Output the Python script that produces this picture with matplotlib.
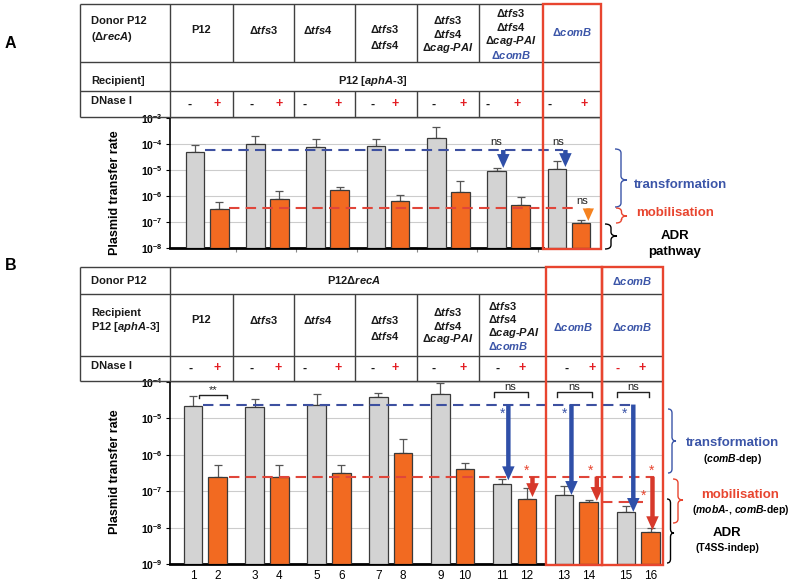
# plasmid transfer rates, panels A and B with the strain tables above them

import numpy as np
import matplotlib
matplotlib.use('Agg')
import matplotlib.pyplot as plt
from matplotlib.patches import Rectangle, PathPatch
from matplotlib.path import Path

plt.rcParams['font.family'] = ['Liberation Sans', 'DejaVu Sans']
plt.rcParams['mathtext.fontset'] = 'custom'
plt.rcParams['mathtext.it'] = 'Liberation Sans:italic:bold'
plt.rcParams['mathtext.rm'] = 'Liberation Sans:bold'
plt.rcParams['mathtext.bf'] = 'Liberation Sans:bold'

# ---- data ----
# panel A: 7 donors, DNase I - (grey) / + (orange)
a_minus = [5.0e-5, 1.0e-4, 8.0e-5, 8.5e-5, 1.65e-4, 8.9e-6, 1.07e-5]
a_minus_top = [9.0e-5, 2.1e-4, 1.5e-4, 1.5e-4, 4.5e-4, 1.2e-5, 2.3e-5]
a_plus = [3.1e-7, 7.4e-7, 1.7e-6, 6.3e-7, 1.4e-6, 4.5e-7, 9.0e-8]
a_plus_top = [6.0e-7, 1.5e-6, 2.3e-6, 1.07e-6, 3.9e-6, 8.9e-7, 1.2e-7]
a_transf_level = 5.9e-5
a_mob_level = 3.4e-7

# panel B: 8 recipients, lanes 1..16
b_minus = [2.2e-5, 2.1e-5, 2.3e-5, 3.8e-5, 4.7e-5, 1.6e-7, 7.7e-8, 2.6e-8]
b_minus_top = [4.1e-5, 3.4e-5, 4.7e-5, 5.1e-5, 9.3e-5, 2.2e-7, 1.4e-7, 3.8e-8]
b_plus = [2.5e-7, 2.5e-7, 3.2e-7, 1.12e-6, 4.1e-7, 6.3e-8, 5.0e-8, 7.6e-9]
b_plus_top = [5.1e-7, 5.2e-7, 5.2e-7, 2.8e-6, 6.0e-7, 1.2e-7, 5.8e-8, 1.0e-8]
b_lanes = [str(i) for i in range(1, 17)]
b_transf_level = 2.4e-5
b_mob_level = 2.5e-7
b_mob_level2 = 4.9e-8

GRAY = '#d3d3d3'
ORANGE = '#f26a21'
EDGE = '#3a3a3a'
BLUE = '#3b55a8'
RED = '#e8452f'
PLUS = '#e31e24'
TL = '#404040'
FS = 8

W, H = 793, 582
fig = plt.figure(figsize=(W / 100, H / 100), dpi=100)


def px_axes(x0, y0, x1, y1):
    return fig.add_axes([x0 / W, 1 - y1 / H, (x1 - x0) / W, (y1 - y0) / H])


def bar_chart(ax, minus, minus_top, plus, plus_top, ylo, yhi, xlim, width, box_left):
    n = len(minus)
    x = np.arange(n)
    xo = x + 0.4
    ax.set_yscale('log')
    ax.bar(x, np.array(minus) - ylo, width, bottom=ylo, color=GRAY, edgecolor=EDGE, lw=0.9, zorder=3)
    ax.bar(xo, np.array(plus) - ylo, width, bottom=ylo, color=ORANGE, edgecolor=EDGE, lw=0.9, zorder=3)
    ax.errorbar(x, minus, yerr=[np.zeros(n), np.array(minus_top) - np.array(minus)], fmt='none',
                ecolor='#555555', elinewidth=0.9, capsize=3, capthick=0.9, zorder=2)
    ax.errorbar(xo, plus, yerr=[np.zeros(n), np.array(plus_top) - np.array(plus)], fmt='none',
                ecolor='#555555', elinewidth=0.9, capsize=3, capthick=0.9, zorder=2)
    ax.set_ylim(ylo, yhi)
    ax.set_xlim(*xlim)
    exps = range(int(np.log10(ylo)), int(np.log10(yhi)) + 1)
    ax.set_yticks([10.0 ** e for e in exps],
                  labels=[r'$\mathdefault{10^{%d}}$' % e for e in exps],
                  fontsize=7.5, fontweight='bold')
    ax.yaxis.set_minor_locator(matplotlib.ticker.NullLocator())
    ax.tick_params(axis='y', length=3, width=0.8, pad=2)
    ax.yaxis.grid(True, color='#cccccc', lw=0.8)
    ax.set_axisbelow(True)
    ax.patch.set_visible(False)
    for s in ('top', 'right'):
        ax.spines[s].set_visible(False)
    ax.spines['left'].set_linewidth(1.2)
    ax.spines['bottom'].set_linewidth(2.0)
    ax.spines['bottom'].set_bounds(xlim[0], box_left)


def arrow(ax, x, y0, y1, color, scale=10):
    ax.annotate('', xy=(x, y1), xytext=(x, y0),
                arrowprops=dict(arrowstyle='simple,tail_width=0.32,head_width=0.9,head_length=1.0',
                                lw=0, fc=color, ec='none', mutation_scale=scale,
                                shrinkA=0, shrinkB=0),
                annotation_clip=False, zorder=6)


def bracket(ax, x0, x1, ytop, yleg, label):
    ax.plot([x0, x0, x1, x1], [yleg, ytop, ytop, yleg], color='#222222', lw=1.0, clip_on=False, zorder=6)
    ax.text((x0 + x1) / 2, ytop, label, ha='center', va='bottom', fontsize=8, color='#222222', zorder=6)


# ---- panel A chart ----
axA = px_axes(170, 118, 601, 248)
bar_chart(axA, a_minus, a_minus_top, a_plus, a_plus_top, 1e-8, 1e-3, (-0.415, 6.73), 0.31, 5.77)
axA.set_xticks([i + 0.68 for i in range(6)], labels=[])
axA.tick_params(axis='x', length=3, color='#888888')
axA.hlines(a_transf_level, 0.17, 6.1, colors='#3d50a0', linestyles=(0, (5, 3)), lw=1.5, zorder=4)
axA.hlines(a_mob_level, 0.56, 6.33, colors='#e0463a', linestyles=(0, (5, 3)), lw=1.5, zorder=4)
arrow(axA, 5.11, a_transf_level, 1.2e-5, '#2f4fa8')
arrow(axA, 6.14, a_transf_level, 1.3e-5, '#2f4fa8')
arrow(axA, 6.52, a_mob_level, 1.1e-7, '#f58220', scale=9)
for xs, ys in [(5.0, 1.2e-4), (6.02, 1.2e-4), (6.42, 6.4e-7)]:
    axA.text(xs, ys, 'ns', ha='center', va='center', fontsize=8, color='#222222')

# ---- panel B chart ----
axB = px_axes(170, 382, 663, 564)
bar_chart(axB, b_minus, b_minus_top, b_plus, b_plus_top, 1e-9, 1e-4, (-0.37, 7.6), 0.3, 5.70)
lane_x = np.ravel(np.column_stack([np.arange(8), np.arange(8) + 0.4]))
axB.set_xticks(lane_x, labels=b_lanes, fontsize=8.5)
axB.tick_params(axis='x', length=0, pad=4)
axB.hlines(b_transf_level, 0.16, 7.14, colors='#3d50a0', linestyles=(0, (5, 3)), lw=1.5, zorder=4)
axB.hlines(b_mob_level, 0.58, 7.46, colors='#e0463a', linestyles=(0, (5, 3)), lw=1.5, zorder=4)
axB.hlines(b_mob_level2, 6.62, 7.27, colors='#e0463a', linestyles=(0, (5, 3)), lw=1.5, zorder=4)
for xa, tip in [(5.1, 2.0e-7), (6.12, 7.9e-8), (7.12, 2.7e-8)]:
    arrow(axB, xa, b_transf_level, tip, '#2f4fa8')
for xa, y0, tip in [(5.49, b_mob_level, 6.9e-8), (6.53, b_mob_level, 5.4e-8), (7.43, b_mob_level, 8.5e-9)]:
    arrow(axB, xa, y0, tip, '#d7392b')
for xs in (5.0, 6.0, 6.98):
    axB.text(xs, 1.35e-5, '*', ha='center', va='center', fontsize=10, color=BLUE)
for xs, ys in [(5.4, 3.7e-7), (6.43, 3.7e-7), (7.42, 3.7e-7), (7.29, 7.6e-8)]:
    axB.text(xs, ys, '*', ha='center', va='center', fontsize=10, color=RED)
bracket(axB, 0.1, 0.55, 4.4e-5, 3.6e-5, '**')
bracket(axB, 4.86, 5.41, 5.4e-5, 3.9e-5, 'ns')
bracket(axB, 5.88, 6.45, 5.4e-5, 3.9e-5, 'ns')
bracket(axB, 6.85, 7.38, 5.4e-5, 3.9e-5, 'ns')

# ---- overlay in pixel coordinates: tables, boxes, braces, labels ----
ov = fig.add_axes([0, 0, 1, 1], zorder=5)
ov.set_xlim(0, W)
ov.set_ylim(H, 0)
ov.axis('off')
ov.patch.set_visible(False)


def stack(x, yc, lines, colors=None, ha='center', step=14, size=FS):
    colors = colors or ['#1a1a1a'] * len(lines)
    y0 = yc - step * (len(lines) - 1) / 2
    for k, (s, c) in enumerate(zip(lines, colors)):
        ov.text(x, y0 + k * step, s, ha=ha, va='center', fontsize=size, fontweight='bold', color=c)


def brace(x, y0, y1, w, ytip, color, lw=1.0):
    xm = x + w / 2
    r = min(4, (y1 - y0) / 4)
    verts = [(x, y0), (xm, y0), (xm, y0 + r), (xm, ytip - r), (xm, ytip), (x + w, ytip),
             (xm, ytip), (xm, ytip + r), (xm, y1 - r), (xm, y1), (x, y1)]
    codes = [Path.MOVETO, Path.CURVE3, Path.CURVE3, Path.LINETO, Path.CURVE3, Path.CURVE3,
             Path.CURVE3, Path.CURVE3, Path.LINETO, Path.CURVE3, Path.CURVE3]
    ov.add_patch(PathPatch(Path(verts, codes), fill=False, ec=color, lw=lw))


T3 = r'Δ$\mathit{tfs3}$'
T4 = r'Δ$\mathit{tfs4}$'
CAG = r'Δ$\mathit{cag}$-$\mathit{PAI}$'
COMB = r'Δ$\mathit{comB}$'
APHA = r'P12 [$\mathit{aphA}$-$\mathit{3}$]'
K = '#1a1a1a'

# table A
ov.hlines(4, 80, 543, colors=TL, lw=1.0)
ov.hlines([62, 91, 117], 80, 601, colors=TL, lw=1.0)
ov.vlines([80, 170], 4, 117, colors=TL, lw=1.0)
ov.vlines([233, 294, 355, 417, 479], 4, 62, colors=TL, lw=1.0)
ov.vlines([233, 294, 355, 417, 479], 91, 117, colors=TL, lw=1.0)
stack(91, 29, ['Donor P12', r'(Δ$\mathit{recA}$)'], ha='left', step=15)
stack(201, 30, ['P12'])
stack(264, 30, [T3])
stack(318, 30, [T4])
stack(385, 37, [T3, T4], step=16)
stack(448, 34, [T3, T4, CAG], step=14)
stack(511, 34, [T3, T4, CAG, COMB], colors=[K, K, K, BLUE], step=14)
stack(572, 32, [COMB], colors=[BLUE])
stack(91, 81, ['Recipient]'], ha='left')
stack(373, 81, [APHA])
stack(91, 101, ['DNase I'], ha='left')
for xm, xp in zip([190, 252, 305, 373, 434, 488, 550], [217, 279, 338, 395, 463, 517, 584]):
    ov.text(xm, 105, '-', ha='center', va='center', fontsize=9, fontweight='bold', color=K)
    ov.text(xp, 104, '+', ha='center', va='center', fontsize=9, fontweight='bold', color=PLUS)
ov.add_patch(Rectangle((543, 4), 58, 245, fill=False, ec=RED, lw=1.7, zorder=10))

# table B
ov.hlines(267, 80, 546, colors=TL, lw=1.0)
ov.hlines([294, 356, 381], 80, 663, colors=TL, lw=1.0)
ov.vlines([80, 170], 267, 381, colors=TL, lw=1.0)
ov.vlines([233, 294, 355, 417, 479], 294, 381, colors=TL, lw=1.0)
stack(91, 281, ['Donor P12'], ha='left')
stack(354, 280, [r'P12Δ$\mathit{recA}$'])
stack(632, 281, [COMB], colors=[BLUE])
stack(91, 320, ['Recipient', APHA], ha='left', step=15)
stack(201, 320, ['P12'])
stack(264, 320, [T3])
stack(318, 320, [T4])
stack(385, 328, [T3, T4], step=16)
stack(448, 326, [T3, T4, CAG], step=13.5)
stack(488, 326, [T3, T4, CAG, COMB], colors=[K, K, K, BLUE], ha='left', step=13.5)
stack(573, 327, [COMB], colors=[BLUE])
stack(632, 327, [COMB], colors=[BLUE])
stack(91, 366, ['DNase I'], ha='left')
b_minus_col = [K] * 7 + [PLUS]
for xm, xp, c in zip([191, 252, 305, 373, 434, 498, 567, 618],
                     [217, 278, 338, 395, 463, 522, 592, 642], b_minus_col):
    ov.text(xm, 369, '-', ha='center', va='center', fontsize=9, fontweight='bold', color=c)
    ov.text(xp, 368, '+', ha='center', va='center', fontsize=9, fontweight='bold', color=PLUS)
ov.add_patch(Rectangle((546, 267), 56, 298, fill=False, ec=RED, lw=1.7, zorder=10))
ov.add_patch(Rectangle((602, 267), 61, 298, fill=False, ec=RED, lw=1.7, zorder=10))

# panel letters and y labels
ov.text(5, 44, 'A', fontsize=11.5, fontweight='bold', ha='left', va='center')
ov.text(5, 265, 'B', fontsize=11.5, fontweight='bold', ha='left', va='center')
ov.text(115, 193, 'Plasmid transfer rate', rotation=90, ha='center', va='center', fontsize=9, fontweight='bold')
ov.text(115, 472, 'Plasmid transfer rate', rotation=90, ha='center', va='center', fontsize=9, fontweight='bold')

# pathway braces, panel A
brace(615, 149, 207, 12, 180, BLUE)
brace(616, 208, 223, 11, 216, RED)
brace(605, 224, 249, 12, 236, 'black')
ov.text(634, 185, 'transformation', ha='left', va='center', fontsize=9.5, fontweight='bold', color=BLUE)
ov.text(636, 213, 'mobilisation', ha='left', va='center', fontsize=9.5, fontweight='bold', color=RED)
ov.text(675, 236, 'ADR', ha='center', va='center', fontsize=9.5, fontweight='bold')
ov.text(675, 252, 'pathway', ha='center', va='center', fontsize=9.5, fontweight='bold')

# pathway braces, panel B
brace(668, 409, 473, 8, 441, BLUE)
brace(673, 479, 523, 10, 500, RED)
brace(667, 499, 563, 7, 533, 'black')
ov.text(733, 443, 'transformation', ha='center', va='center', fontsize=9.5, fontweight='bold', color=BLUE)
ov.text(733, 459, r'($\mathit{comB}$-dep)', ha='center', va='center', fontsize=7.5, fontweight='bold')
ov.text(740, 495, 'mobilisation', ha='center', va='center', fontsize=9.5, fontweight='bold', color=RED)
ov.text(741, 510, r'($\mathit{mobA}$-, $\mathit{comB}$-dep)', ha='center', va='center', fontsize=7.5, fontweight='bold')
ov.text(727, 533, 'ADR', ha='center', va='center', fontsize=9.5, fontweight='bold')
ov.text(727, 548, '(T4SS-indep)', ha='center', va='center', fontsize=7.5, fontweight='bold')

fig.savefig('out.png', dpi=100)
